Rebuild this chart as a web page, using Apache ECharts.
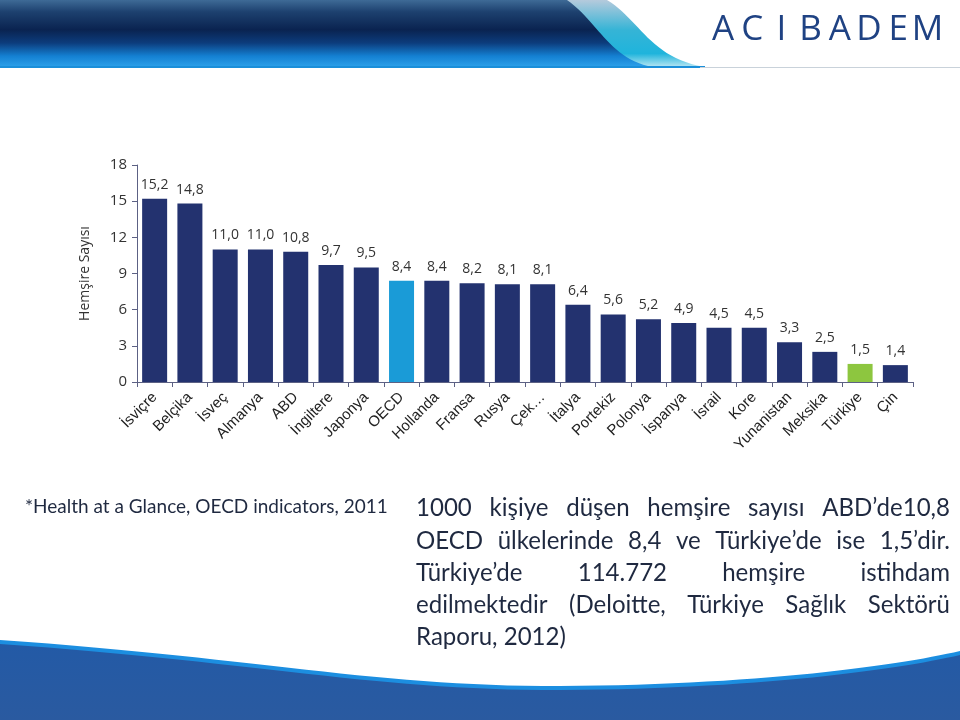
<!DOCTYPE html>
<html><head><meta charset="utf-8">
<script src="https://cdn.jsdelivr.net/npm/echarts@6/dist/echarts.min.js"></script>
<style>html,body{margin:0;padding:0;background:#fff}#c{width:960px;height:720px}</style>
</head><body><div id="c"></div>
<script>
const categories = ['İsviçre','Belçika','İsveç','Almanya','ABD','İngiltere','Japonya','OECD','Hollanda','Fransa','Rusya','Çek…','İtalya','Portekiz','Polonya','İspanya','İsrail','Kore','Yunanistan','Meksika','Türkiye','Çin'];
const values = [15.2,14.8,11.0,11.0,10.8,9.7,9.5,8.4,8.4,8.2,8.1,8.1,6.4,5.6,5.2,4.9,4.5,4.5,3.3,2.5,1.5,1.4];
const yTickMin = 0, yTickMax = 18, yTickStep = 3;
const highlightColors = {'OECD':'#1a9bd7','Türkiye':'#8dc63f'};
const baseColor = '#23326f';
const yAxisName = 'Hemşire Sayısı';
const logoText = 'ACIBADEM';
const sourceNote = '*Health at a Glance, OECD indicators, 2011';
const bodyLines = [
  '1000 kişiye düşen hemşire sayısı ABD’de10,8',
  'OECD ülkelerinde 8,4 ve Türkiye’de ise 1,5’dir.',
  'Türkiye’de 114.772 hemşire istihdam',
  'edilmektedir (Deloitte, Türkiye Sağlık Sektörü',
  'Raporu, 2012)'
];

const chart = echarts.init(document.getElementById('c'), null, {renderer:'canvas'});
const mctx = document.createElement('canvas').getContext('2d');
function measure(t, font){ mctx.font = font; return mctx.measureText(t).width; }
function lin(stops){ return {type:'linear', x:0, y:0, x2:0, y2:1, colorStops:stops}; }
// sample a cubic bezier into points
function bez(p0,p1,p2,p3,n){
  const out=[];
  for(let i=0;i<=n;i++){const t=i/n,u=1-t;
    out.push([u*u*u*p0[0]+3*u*u*t*p1[0]+3*u*t*t*p2[0]+t*t*t*p3[0],
              u*u*u*p0[1]+3*u*u*t*p1[1]+3*u*t*t*p2[1]+t*t*t*p3[1]]);}
  return out;
}

const fam = 'Lato';
const bodyColor = '#1f2940';
const bodySize = 22 * 150 / measure(bodyLines[bodyLines.length-1], '22px ' + fam);
const bodyFont = bodySize.toFixed(2) + 'px ' + fam;
const noteSize = 16 * 368 / measure(sourceNote, '16px ' + fam);
const noteFont = Math.min(noteSize, 19).toFixed(2) + 'px ' + fam;

const graphics = [];
// header banner: light swoosh then dark band
graphics.push({type:'polygon', shape:{points:[[0,0]].concat(bez([607,0],[640,20],[650,58],[705,67],24)).concat([[0,67]])},
  style:{fill:lin([{offset:0,color:'#b5cadc'},{offset:0.45,color:'#35b4d6'},{offset:0.8,color:'#1fb4dc'},{offset:1,color:'#b8e6f2'}])}});
graphics.push({type:'polygon', shape:{points:[[0,0]].concat(bez([567,0],[598,22],[608,56],[648,66],24)).concat([[0,66]])},
  style:{fill:lin([{offset:0,color:'#3e6a96'},{offset:0.18,color:'#1d416f'},{offset:0.45,color:'#0a2350'},
    {offset:0.65,color:'#0c3c7c'},{offset:0.85,color:'#1480d2'},{offset:1,color:'#2a9ee8'}])}});
graphics.push({type:'rect', shape:{x:0,y:66,width:705,height:2}, style:{fill:'#1b8fd9'}});
graphics.push({type:'rect', shape:{x:700,y:67,width:260,height:1}, style:{fill:'#c9d2da'}});
// logo letters
for (let i = 0; i < logoText.length; i++) {
  graphics.push({type:'text', x:723 + i*29.2, y:30,
    style:{text:logoText[i], font:'35px "Open Sans"', fill:'#1f4283', align:'center', verticalAlign:'middle'}});
}
// footer band
const curveA = bez([0,640],[250,657],[380,687],[560,686],30).concat(bez([560,686],[760,685],[900,665],[960,651],30));
const curveB = curveA.map(p=>[p[0],p[1]+4]);
graphics.push({type:'polygon', shape:{points:curveA.concat([[960,720],[0,720]])}, style:{fill:'#1c8ee0'}});
graphics.push({type:'polygon', shape:{points:curveB.concat([[960,720],[0,720]])},
  style:{fill:lin([{offset:0,color:'#235aa6'},{offset:1,color:'#2a5aa0'}])}});
// source note
graphics.push({type:'text', x:25, y:507, style:{text:sourceNote, font:noteFont, fill:'#1f2940', verticalAlign:'middle'}});
// body text (justified)
const X0 = 416, X1 = 950;
const lineY = [508, 541, 573, 605, 637];
bodyLines.forEach((line, i) => {
  if (i === bodyLines.length - 1) {
    graphics.push({type:'text', x:X0, y:lineY[i], style:{text:line, font:bodyFont, fill:bodyColor, verticalAlign:'middle'}});
    return;
  }
  const words = line.split(' ');
  const ws = words.map(w => measure(w, bodyFont));
  const sum = ws.reduce((a,b)=>a+b,0);
  const gap = (X1 - X0 - sum) / (words.length - 1);
  let x = X0;
  words.forEach((w, k) => {
    graphics.push({type:'text', x:x, y:lineY[i], style:{text:w, font:bodyFont, fill:bodyColor, verticalAlign:'middle'}});
    x += ws[k] + gap;
  });
});

const axisColor = '#5c6184';
chart.setOption({
  animation:false,
  grid:{left:137, right:47, top:165, bottom:338, containLabel:false, outerBoundsMode:'none'},
  xAxis:{type:'category', data:categories,
    axisLine:{lineStyle:{color:axisColor,width:1}},
    axisTick:{show:true, length:5, lineStyle:{color:axisColor}},
    axisLabel:{interval:0, rotate:45, fontFamily:'Liberation Sans', fontSize:15, color:'#222', margin:13}},
  yAxis:{type:'value', min:yTickMin, max:yTickMax, interval:yTickStep,
    name:yAxisName, nameLocation:'middle', nameRotate:90, nameGap:45,
    nameTextStyle:{fontFamily:'Open Sans', fontSize:14, color:'#333'},
    axisLine:{show:true, lineStyle:{color:axisColor,width:1}},
    axisTick:{show:true, length:5, lineStyle:{color:axisColor}},
    splitLine:{show:false},
    axisLabel:{fontFamily:'Open Sans', fontSize:15, color:'#333', margin:10}},
  series:[{type:'bar', barWidth:25,
    data: values.map((v,i)=>({value:v, itemStyle:{color: highlightColors[categories[i]] || baseColor}})),
    label:{show:true, position:'top', distance:7, fontFamily:'Open Sans', fontSize:14, color:'#333',
      formatter:p => p.value.toFixed(1).replace('.', ',')}}],
  graphic:graphics
});
</script></body></html>
